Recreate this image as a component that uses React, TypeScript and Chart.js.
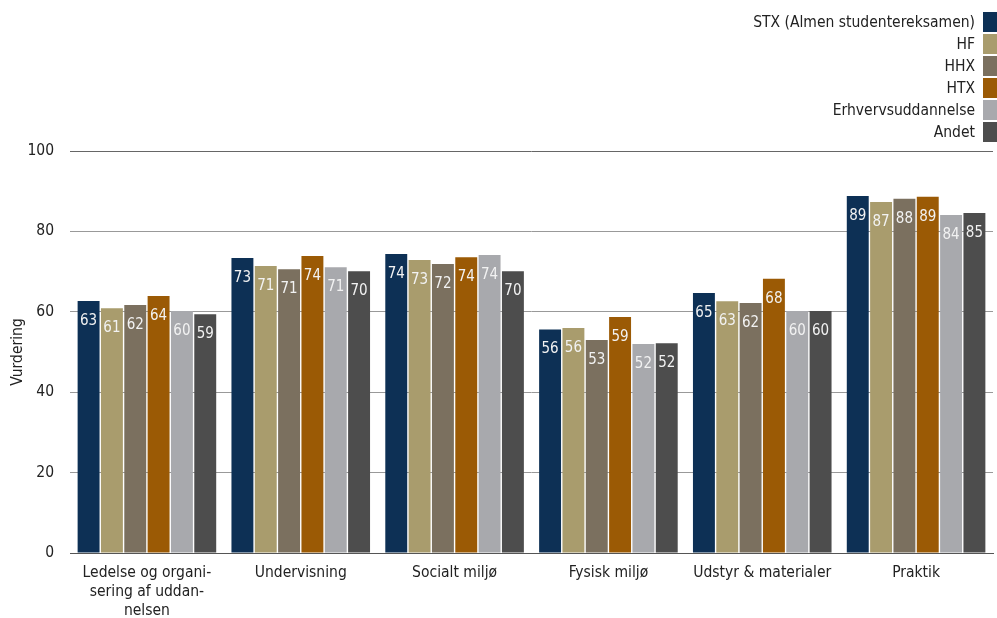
import React, { useEffect, useRef } from "react";
import { Chart, registerables } from "chart.js";

Chart.register(...registerables);

const categories: (string | string[])[] = [
  ["Ledelse og organi-", "sering af uddan-", "nelsen"],
  "Undervisning",
  "Socialt miljø",
  "Fysisk miljø",
  "Udstyr & materialer",
  "Praktik",
];
const seriesNames = ["STX (Almen studentereksamen)", "HF", "HHX", "HTX", "Erhvervsuddannelse", "Andet"];
const seriesColors = ["#0d3055", "#a99c6d", "#7b705f", "#9b5a05", "#a8a9ad", "#4d4d4d"];
const stx = [62.7, 73.4, 74.4, 55.6, 64.7, 88.8];
const hf = [60.9, 71.4, 72.9, 56.0, 62.6, 87.3];
const hhx = [61.7, 70.6, 71.9, 53.0, 62.2, 88.1];
const htx = [63.9, 73.9, 73.6, 58.7, 68.2, 88.6];
const erhverv = [60.2, 71.1, 74.1, 52.0, 60.2, 84.1];
const andet = [59.4, 70.1, 70.1, 52.2, 60.2, 84.6];
const seriesValues = [stx, hf, hhx, htx, erhverv, andet];
const yTicks = [0, 20, 40, 60, 80, 100];

const FONT = "'DejaVu Sans Condensed', 'DejaVu Sans', Verdana, sans-serif";

const valueLabels = {
  id: "valueLabels",
  afterDatasetsDraw(chart: any) {
    const ctx = chart.ctx;
    ctx.save();
    ctx.font = `15px ${FONT}`;
    ctx.fillStyle = "#f2f2f2";
    ctx.textAlign = "center";
    ctx.textBaseline = "middle";
    chart.data.datasets.forEach((ds: any, i: number) => {
      const meta = chart.getDatasetMeta(i);
      meta.data.forEach((bar: any, j: number) => {
        ctx.fillText(String(Math.round(ds.data[j])), bar.x, bar.y + 20);
      });
    });
    ctx.restore();
  },
};

const customLegend = {
  id: "customLegend",
  afterDraw(chart: any) {
    const ctx = chart.ctx;
    ctx.save();
    ctx.font = `15.5px ${FONT}`;
    ctx.textAlign = "right";
    ctx.textBaseline = "middle";
    const boxW = 14;
    const boxH = 20;
    const step = 22;
    const right = chart.width;
    chart.data.datasets.forEach((ds: any, i: number) => {
      const y = 12 + i * step;
      ctx.fillStyle = ds.backgroundColor;
      ctx.fillRect(right - boxW, y, boxW, boxH);
      ctx.fillStyle = "#222";
      ctx.fillText(ds.label, right - boxW - 8, y + boxH / 2 + 1);
    });
    ctx.restore();
  },
};

export default function App() {
  const ref = useRef<HTMLCanvasElement>(null);
  useEffect(() => {
    if (!ref.current) return;
    const chart = new Chart(ref.current, {
      type: "bar",
      data: {
        labels: categories,
        datasets: seriesValues.map((vals, i) => ({
          label: seriesNames[i],
          data: vals,
          backgroundColor: seriesColors[i],
          borderWidth: 0,
          categoryPercentage: 0.91,
          barPercentage: 0.94,
        })),
      },
      options: {
        animation: false,
        responsive: true,
        maintainAspectRatio: false,
        layout: { padding: { top: 151, right: 4, left: 0, bottom: 0 } },
        plugins: {
          legend: { display: false },
          tooltip: { enabled: false },
        },
        scales: {
          x: {
            grid: { display: false, drawTicks: false },
            border: { display: true, color: "#555", width: 1 },
            ticks: {
              color: "#222",
              font: { family: FONT, size: 15.5, lineHeight: 1.25 },
              padding: 10,
              maxRotation: 0,
              autoSkip: false,
            },
            afterFit(scale: any) {
              scale.height = 65;
            },
          },
          y: {
            min: 0,
            max: 100,
            afterBuildTicks(scale: any) {
              scale.ticks = yTicks.map((v) => ({ value: v }));
            },
            grid: {
              drawTicks: false,
              color: (c: any) => (c.tick && c.tick.value === 0 ? "#555" : c.tick && c.tick.value === 100 ? "#666" : "#999"),
              lineWidth: 1,
            },
            border: { display: false },
            ticks: {
              color: "#222",
              font: { family: FONT, size: 15.5 },
              padding: 16,
            },
            title: {
              display: true,
              text: "Vurdering",
              color: "#222",
              font: { family: FONT, size: 15.5 },
              padding: { top: 9, bottom: 4 },
            },
            afterFit(scale: any) {
              scale.width = 70;
            },
          },
        },
      },
      plugins: [valueLabels, customLegend],
    });
    return () => chart.destroy();
  }, []);
  return (
    <div style={{ position: "absolute", left: 0, top: 0, width: 997, height: 618 }}>
      <canvas ref={ref} />
    </div>
  );
}
